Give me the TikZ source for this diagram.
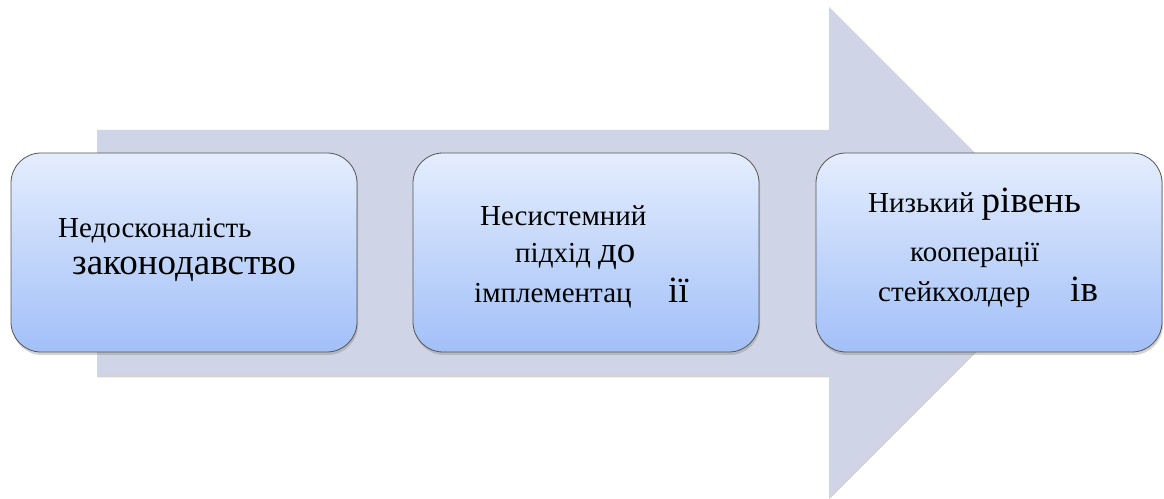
\documentclass[tikz,border=0pt]{standalone}
\usepackage{fontspec}
\setmainfont{Liberation Serif}
\usepackage{tikz}
\usetikzlibrary{positioning, shadows}

\definecolor{arrowfill}{HTML}{CFD5E6}
\definecolor{boxtop}{HTML}{E4EDFD}
\definecolor{boxbottom}{HTML}{A2C0F8}
\definecolor{boxline}{HTML}{555555}

\newcommand{\smalltxt}{\fontsize{29}{33}\selectfont}
\newcommand{\bigtxt}{\fontsize{37}{41}\selectfont}

\begin{document}
\begin{tikzpicture}[x=1pt, y=1pt,
    stagebox/.style={draw=boxline, line width=0.8pt, rounded corners=30pt,
      top color=boxtop, bottom color=boxbottom,
      minimum width=346pt, minimum height=199pt, outer sep=0pt,
      drop shadow={shadow xshift=1pt, shadow yshift=-3pt, opacity=0.35}},
    words/.style={anchor=base west, inner sep=0pt}]
    \useasboundingbox (0,0) rectangle (1164,498);
    % big arrow in the back
    \fill[arrowfill, drop shadow={shadow xshift=0pt, shadow yshift=-2.5pt, opacity=0.35}]
      (97,368) -- (829,368) -- (829,491) -- (1074,246) -- (829,1) -- (829,123) -- (97,123) -- cycle;
    % the three boxes
    \node[stagebox] (lawbox) at (184,245.5) {};
    \node[stagebox, right=56pt of lawbox] (implbox) {};
    \node[stagebox, right=57pt of implbox] (coopbox) {};
    % texts
    \node[words] (lawa) at (58,260) {\smalltxt Недосконалість};
    \node[words] (lawb) at (72,223) {\bigtxt законодавство};
    \node[words] (impla) at (480,272) {\smalltxt Несистемний};
    \node[words] (implb) at (515,235) {\smalltxt підхід \bigtxt до};
    \node[words] (implc) at (474,195) {\smalltxt імплементац};
    \node[words] (impld) at (668,195) {\bigtxt ії};
    \node[words] (coopa) at (868,285) {\smalltxt Низький \bigtxt рівень};
    \node[words] (coopb) at (910,236) {\smalltxt кооперації};
    \node[words] (coopc) at (878,196) {\smalltxt стейкхолдер};
    \node[words] (coopd) at (1070,196) {\bigtxt ів};
\end{tikzpicture}
\end{document}
